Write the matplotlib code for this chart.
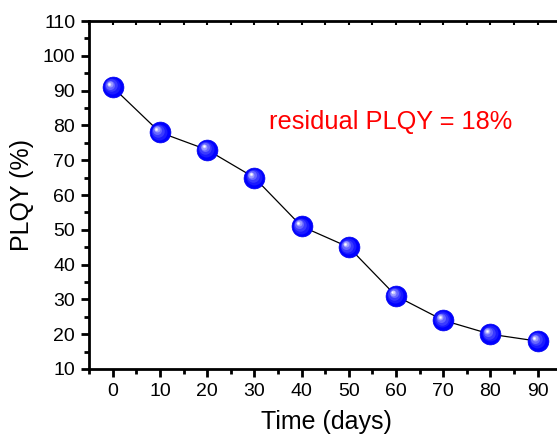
import numpy as np
import matplotlib.pyplot as plt
from matplotlib.transforms import offset_copy

plt.rcParams['font.family'] = ['Liberation Sans', 'DejaVu Sans']

days = [0, 10, 20, 30, 40, 50, 60, 70, 80, 90]
plqy = [91, 78, 73, 65, 51, 45, 31, 24, 20, 18]
x_ticks = [0, 10, 20, 30, 40, 50, 60, 70, 80, 90]
y_ticks = [10, 20, 30, 40, 50, 60, 70, 80, 90, 100, 110]

fig = plt.figure(figsize=(5.57, 4.36), dpi=100)
ax = fig.add_axes([0.160, 0.1537, 0.890, 0.798])

ax.plot(days, plqy, color='black', lw=0.9, zorder=2)

# fake 3D spheres: blue ball plus a few lighter layers toward upper-left
ax.plot(days, plqy, 'o', ms=15, color='#0000ff', mec='#0000ee', mew=0.5, zorder=3)
layers = [(11.5, '#1a1aff', -0.6), (9.0, '#3a3aff', -1.2), (6.5, '#6666ff', -1.8),
          (4.3, '#9999ff', -2.2), (2.6, '#d0d0ff', -2.5), (1.3, '#ffffff', -2.6)]
for ms, col, off in layers:
    tr = offset_copy(ax.transData, fig=fig, x=off, y=-off, units='points')
    ax.plot(days, plqy, 'o', ms=ms, color=col, mew=0, transform=tr, zorder=4)

ax.text(33, 81, 'residual PLQY = 18%', color='#ff0000', fontsize=18.3,
        ha='left', va='center')

ax.set_xlim(-5, 100)
ax.set_ylim(10, 110)
ax.set_xticks(x_ticks)
ax.set_yticks(y_ticks)
ax.set_xticks(np.arange(-5, 100, 10), minor=True)
ax.set_yticks(np.arange(15, 110, 10), minor=True)

ax.spines['right'].set_visible(False)
for s in ['left', 'bottom', 'top']:
    ax.spines[s].set_linewidth(2)
ax.tick_params(which='major', direction='out', length=6, width=2,
               labelsize=14, pad=4, top=False, right=False)
ax.tick_params(which='minor', direction='out', length=3.5, width=2,
               top=False, right=False)

top = ax.secondary_xaxis('top')
top.set_xticks(x_ticks)
top.set_xticks(np.arange(-5, 100, 10), minor=True)
top.tick_params(which='both', direction='in', length=3, width=1.5, labeltop=False)
top.spines['top'].set_visible(False)

ax.set_xlabel('Time (days)', fontsize=18, labelpad=6)
ax.xaxis.set_label_coords(0.478, -0.118)
ax.set_ylabel('PLQY (%)', fontsize=18, labelpad=6)

fig.savefig('out.png', dpi=100)
